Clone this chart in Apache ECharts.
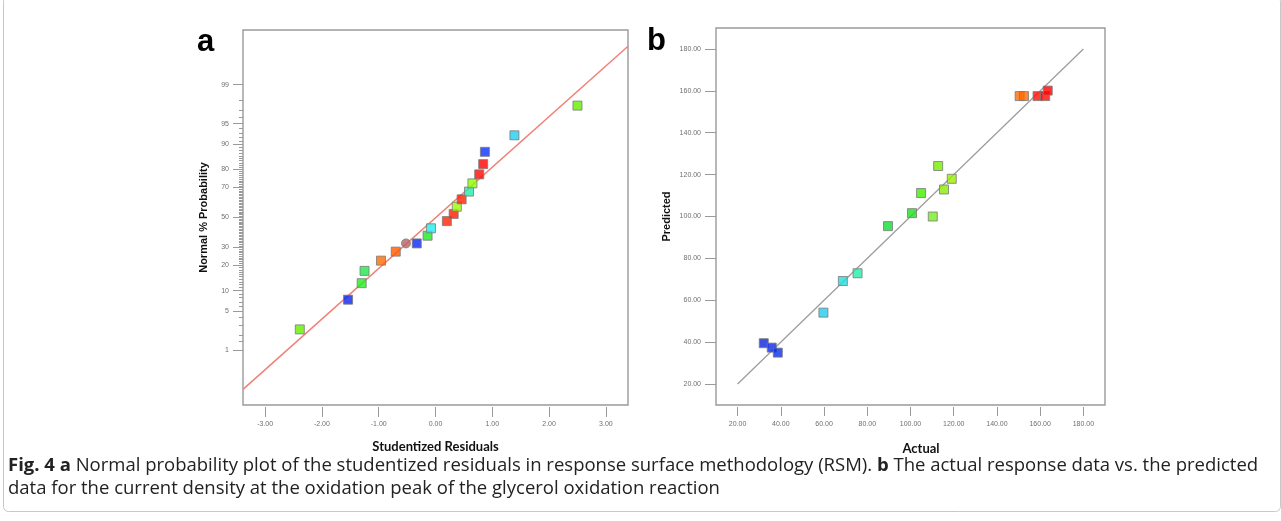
<!DOCTYPE html>
<html>
<head>
<meta charset="utf-8">
<script src="https://cdn.jsdelivr.net/npm/echarts@6/dist/echarts.min.js"></script>
<style>
html,body{margin:0;padding:0;background:#fff;}
#chart{width:1281px;height:521px;}
</style>
</head>
<body>
<div id="chart"></div>
<script>
// ---------- Panel a: normal probability plot ----------
const residuals = [-2.39, -1.54, -1.30, -1.25, -0.96, -0.70, -0.52, -0.33, -0.14, -0.08, 0.20, 0.32, 0.375, 0.46, 0.59, 0.65, 0.77, 0.84, 0.87, 1.39, 2.50];
const probabilities = [2.5, 7.5, 12.5, 17.5, 22.5, 27.5, 32.5, 32.5, 37.5, 42.5, 47.5, 52.5, 57.5, 62.5, 67.5, 72.5, 77.5, 82.5, 87.5, 92.5, 97.5];
const fitLineA = [[-3.39, -3.01], [3.39, 3.0]]; // [residual, z]
const residualTicks = [-3, -2, -1, 0, 1, 2, 3];
const probMajorTicks = [1, 5, 10, 20, 30, 50, 70, 80, 90, 95, 99];
const probMinorTicks = [1.5, 2, 3, 4, 6, 7, 8, 9, 11, 12, 13, 14, 15, 16, 17, 18, 19, 21, 22, 23, 24, 25, 26, 27, 28, 29,
  31, 32, 33, 34, 35, 36, 37, 38, 39, 40, 41, 42, 43, 44, 45, 46, 47, 48, 49, 51, 52, 53, 54, 55, 56, 57, 58, 59, 60,
  61, 62, 63, 64, 65, 66, 67, 68, 69, 71, 72, 73, 74, 75, 76, 77, 78, 79, 81, 82, 83, 84, 85, 86, 87, 88, 89, 91, 92, 93, 94, 96, 97, 98];
const colorsA = ['#66ee00', '#0a24ee', '#22ee22', '#1ee84a', '#ff6a00', '#ff5a00', '#b86262', '#0a28f0', '#22e822', '#22eeee',
  '#ff2200', '#ff1a00', '#99ff00', '#ff2000', '#22eeaa', '#88ff00', '#ff0800', '#ff0000', '#0a30ff', '#22ccf0', '#66ee00'];
const markerShapesA = ['rect','rect','rect','rect','rect','rect','circle','rect','rect','rect','rect','rect','rect','rect','rect','rect','rect','rect','rect','rect','rect'];

// ---------- Panel b: actual vs predicted ----------
const actual = [150.5, 152.5, 158.8, 162.3, 163.5, 112.8, 119.1, 115.5, 104.9, 100.7, 110.3, 89.6, 75.5, 68.7, 59.7, 32.1, 35.8, 38.6];
const predicted = [157.5, 157.5, 157.5, 157.5, 160.1, 124.1, 118.0, 112.9, 111.2, 101.6, 100.0, 95.4, 72.9, 69.2, 54.1, 39.5, 37.4, 35.0];
const colorsB = ['#ff6a00', '#ff6a00', '#ff1000', '#ff0800', '#ff0000', '#77ee00', '#99ee00', '#88ee00', '#44ee00', '#22dd22',
  '#77ee22', '#11dd33', '#22eeaa', '#22dddd', '#22ccee', '#0a24dd', '#0a28ee', '#0a2cee'];
const fitLineB = [[20, 20], [180, 180]];
const actualTicks = [20, 40, 60, 80, 100, 120, 140, 160, 180];
const predictedTicks = [20, 40, 60, 80, 100, 120, 140, 160, 180];

// inverse standard normal CDF (probability scale)
function probToZ(p) {
  const a=[-3.969683028665376e+01,2.209460984245205e+02,-2.759285104469687e+02,1.383577518672690e+02,-3.066479806614716e+01,2.506628277459239e+00];
  const b=[-5.447609879822406e+01,1.615858368580409e+02,-1.556989798598866e+02,6.680131188771972e+01,-1.328068155288572e+01];
  const c=[-7.784894002430293e-03,-3.223964580411365e-01,-2.400758277161838e+00,-2.549732539343734e+00,4.374664141464968e+00,2.938163982698783e+00];
  const d=[7.784695709041462e-03,3.224671290700398e-01,2.445134137142996e+00,3.754408661907416e+00];
  const pl=0.02425, ph=1-pl; let q, r;
  if (p < pl) { q=Math.sqrt(-2*Math.log(p)); return (((((c[0]*q+c[1])*q+c[2])*q+c[3])*q+c[4])*q+c[5])/((((d[0]*q+d[1])*q+d[2])*q+d[3])*q+1); }
  if (p <= ph) { q=p-0.5; r=q*q; return (((((a[0]*r+a[1])*r+a[2])*r+a[3])*r+a[4])*r+a[5])*q/(((((b[0]*r+b[1])*r+b[2])*r+b[3])*r+b[4])*r+1); }
  q=Math.sqrt(-2*Math.log(1-p)); return -(((((c[0]*q+c[1])*q+c[2])*q+c[3])*q+c[4])*q+c[5])/((((d[0]*q+d[1])*q+d[2])*q+d[3])*q+1);
}
const zMajor = probMajorTicks.map(p => probToZ(p / 100));
const zMinor = probMinorTicks.map(p => probToZ(p / 100));
const zLabel = {};
probMajorTicks.forEach((p, i) => { zLabel[zMajor[i].toFixed(5)] = String(p); });

const dataA = residuals.map((r, i) => ({
  value: [r, probToZ(probabilities[i] / 100)],
  symbol: markerShapesA[i],
  itemStyle: { color: colorsA[i] }
}));
const dataB = actual.map((v, i) => ({ value: [v, predicted[i]], itemStyle: { color: colorsB[i] } }));

const tickLabel = { color: '#6f6f6f', fontSize: 7, fontFamily: 'Liberation Sans, Arial, sans-serif' };
const tickStyle = { color: '#9a9a9a', width: 1 };
const noLine = { show: false, onZero: false };

const chart = echarts.init(document.getElementById('chart'), null, { renderer: 'canvas' });
chart.setOption({
  animation: false,
  backgroundColor: '#ffffff',
  grid: [
    { left: 243, top: 30, width: 385, height: 375, show: true, borderColor: '#9a9a9a', borderWidth: 1.4, backgroundColor: 'transparent' },
    { left: 716, top: 28, width: 389, height: 377, show: true, borderColor: '#9a9a9a', borderWidth: 1.4, backgroundColor: 'transparent' }
  ],
  xAxis: [
    {
      gridIndex: 0, type: 'value', min: -3.39, max: 3.39, offset: 2, position: 'bottom',
      axisLine: noLine, splitLine: { show: false },
      axisTick: { show: true, length: 10, lineStyle: tickStyle, customValues: residualTicks },
      axisLabel: Object.assign({ margin: 14, customValues: residualTicks, formatter: v => v.toFixed(2) }, tickLabel),
      name: 'Studentized Residuals', nameLocation: 'middle', nameGap: 33,
      nameTextStyle: { fontFamily: 'Lato, sans-serif', fontWeight: 'bold', fontSize: 13, color: '#111' }
    },
    {
      gridIndex: 1, type: 'value', min: 10, max: 190, offset: 2, position: 'bottom',
      axisLine: noLine, splitLine: { show: false },
      axisTick: { show: true, length: 9, lineStyle: tickStyle, customValues: actualTicks },
      axisLabel: Object.assign({ margin: 14, customValues: actualTicks, formatter: v => v.toFixed(2) }, tickLabel),
      name: 'Actual', nameLocation: 'middle', nameGap: 35,
      nameTextStyle: { fontFamily: 'Lato, sans-serif', fontWeight: 'bold', fontSize: 13, color: '#111', padding: [0, 0, 0, 21] }
    }
  ],
  yAxis: [
    {
      gridIndex: 0, type: 'value', min: -3.284, max: 3.284, position: 'left',
      axisLine: noLine, splitLine: { show: false },
      axisTick: { show: true, length: 10, lineStyle: tickStyle, customValues: zMajor },
      axisLabel: Object.assign({ margin: 14, customValues: zMajor, formatter: v => zLabel[v.toFixed(5)] || '' }, tickLabel),
      name: 'Normal % Probability', nameLocation: 'middle', nameGap: 34, nameRotate: 90,
      nameTextStyle: { fontFamily: 'Liberation Sans, Arial, sans-serif', fontWeight: 'bold', fontSize: 11, color: '#111' }
    },
    {
      gridIndex: 0, type: 'value', min: -3.284, max: 3.284, position: 'left', offset: 0,
      axisLine: noLine, splitLine: { show: false },
      axisTick: { show: true, length: 4, lineStyle: tickStyle, customValues: zMinor },
      axisLabel: { show: false }
    },
    {
      gridIndex: 1, type: 'value', min: 10, max: 190, position: 'left',
      axisLine: noLine, splitLine: { show: false },
      axisTick: { show: true, length: 11, lineStyle: tickStyle, customValues: predictedTicks },
      axisLabel: Object.assign({ margin: 15, customValues: predictedTicks, formatter: v => v.toFixed(2) }, tickLabel),
      name: 'Predicted', nameLocation: 'middle', nameGap: 44, nameRotate: 90,
      nameTextStyle: { fontFamily: 'Liberation Sans, Arial, sans-serif', fontWeight: 'bold', fontSize: 11, color: '#111' }
    }
  ],
  series: [
    {
      type: 'line', xAxisIndex: 0, yAxisIndex: 0, data: fitLineA, showSymbol: false, silent: true,
      lineStyle: { color: '#f08078', width: 1.5 }, z: 2
    },
    {
      type: 'scatter', xAxisIndex: 0, yAxisIndex: 0, data: dataA, symbolSize: 9,
      itemStyle: { borderColor: '#7a7a7a', borderWidth: 1 }, z: 3
    },
    {
      type: 'line', xAxisIndex: 1, yAxisIndex: 2, data: fitLineB, showSymbol: false, silent: true,
      lineStyle: { color: '#9a9a9a', width: 1.2 }, z: 2
    },
    {
      type: 'scatter', xAxisIndex: 1, yAxisIndex: 2, data: dataB, symbol: 'rect', symbolSize: 9,
      itemStyle: { borderColor: '#7a7a7a', borderWidth: 1 }, z: 3
    }
  ],
  graphic: [
    { type: 'rect', left: 1, top: -6, shape: { width: 1277, height: 515, r: 5 }, style: { fill: 'none', stroke: '#c8c8c8', lineWidth: 1 }, silent: true },
    { type: 'text', left: 197, top: 27, style: { text: 'a', font: 'bold 31px "Liberation Sans", Arial, sans-serif', fill: '#000' } },
    { type: 'text', left: 647, top: 26, style: { text: 'b', font: 'bold 31px "Liberation Sans", Arial, sans-serif', fill: '#000' } },
    {
      type: 'text', left: 8, top: 456,
      style: {
        text: '{b|Fig. 4 a} Normal probability plot of the studentized residuals in response surface methodology (RSM). {b|b} The actual response data vs. the predicted',
        font: '18.5px "Open Sans", sans-serif', fill: '#222',
        rich: { b: { fontWeight: 'bold', fontSize: 18.5, fontFamily: 'Open Sans, sans-serif', fill: '#222' } }
      }
    },
    {
      type: 'text', left: 8, top: 479,
      style: { text: 'data for the current density at the oxidation peak of the glycerol oxidation reaction', font: '18.5px "Open Sans", sans-serif', fill: '#222' }
    }
  ]
});
</script>
</body>
</html>
